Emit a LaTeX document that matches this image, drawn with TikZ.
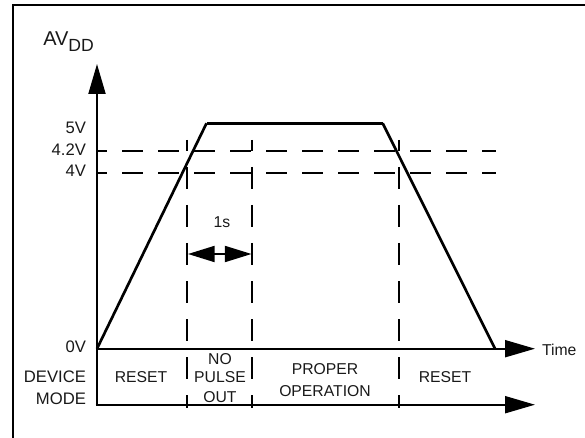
\documentclass[tikz,border=0pt]{standalone}
\usepackage{fontspec}
\setmainfont{Liberation Sans}
\usetikzlibrary{arrows.meta}
\tikzset{
  frameline/.style={line width=1.9pt,line cap=butt},
  axisline/.style={line width=1.5pt},
  bigarrow/.style={axisline,-{Triangle[length=22.5pt,width=12.75pt]}},
  trace/.style={line width=2pt,line join=miter},
  flat/.style={line width=2.5pt},
  hdash/.style={line width=1.5pt,dash pattern=on 15.75pt off 11.25pt,dash phase=7.5pt},
  vdash/.style={line width=1.5pt,dash pattern=on 16.5pt off 12pt,dash phase=8.25pt},
  dim/.style={line width=1.5pt,{Triangle[length=20pt,width=12pt]}-{Triangle[length=20pt,width=12pt]}},
  lab/.style={inner sep=0pt,outer sep=0pt,font=\fontsize{11.8pt}{13pt}\selectfont,text=black!90},
  rlab/.style={lab,anchor=base east,font=\fontsize{12.5pt}{14pt}\selectfont},
  clab/.style={lab,anchor=base},
}
\begin{document}
\begin{tikzpicture}[x=0.75pt,y=-0.75pt]
\useasboundingbox (0,0) rectangle (585,438);
% frame
\coordinate (fa) at (13,438); \coordinate (fb) at (13,5); \coordinate (fc) at (585,5);
\draw[frameline] (fa) -- (fb) -- (fc);
% axes
\coordinate (o) at (97,348.7);
\coordinate (ytip) at (97,64);
\coordinate (xtip) at (535,348.7);
\coordinate (m) at (97,404.7);
\coordinate (mtip) at (535,404.7);
\draw[bigarrow] (m) -- (ytip);
\draw[bigarrow] (95.5,348.7) -- (xtip);
\draw[bigarrow] (95.5,404.7) -- (mtip);
% dashed levels
\draw[hdash] (96,150.7) -- (496,150.7);
\draw[hdash] (96,172.7) -- (496,172.7);
% dashed verticals
\foreach \x in {187,252,399}{
  \draw[vdash] (\x,140) -- (\x,407.5);
}
% voltage trace
\coordinate (t0) at (97,348.7);
\coordinate (t1) at (206.5,123.3);
\coordinate (t2) at (382.7,123.3);
\coordinate (t3) at (495,348.7);
\draw[trace] (t0) -- (t1);
\draw[trace] (t2) -- (t3);
\draw[flat] (t1) -- (t2);
% 1s arrow
\coordinate (da) at (188,254); \coordinate (db) at (251.5,254);
\draw[dim] (da) -- (db);
% labels
\node[inner sep=0pt,anchor=base west,font=\fontsize{15pt}{17pt}\selectfont,text=black!90] (avdd) at (43,46) {AV\raisebox{-4.5pt}{\fontsize{13.2pt}{15pt}\selectfont DD}};
\node[rlab] (v5) at (86,134) {5V};
\node[rlab] (v42) at (86,156) {4.2V};
\node[rlab] (v4) at (86,177) {4V};
\node[rlab] (v0) at (86,352) {0V};
\node[rlab] (dev) at (86,382) {DEVICE};
\node[rlab] (mode) at (86,404) {MODE};
\node[clab] (r1) at (141,382) {RESET};
\node[clab] (no) at (220,364) {NO};
\node[clab] (pulse) at (220,382) {PULSE};
\node[clab] (out) at (220,402) {OUT};
\node[clab] (prop) at (325,374) {PROPER};
\node[clab] (oper) at (325,396) {OPERATION};
\node[clab] (r2) at (445,382) {RESET};
\node[lab,anchor=base west] (time) at (542,355) {Time};
\node[clab] (s1) at (222,228) {1s};
\end{tikzpicture}
\end{document}
